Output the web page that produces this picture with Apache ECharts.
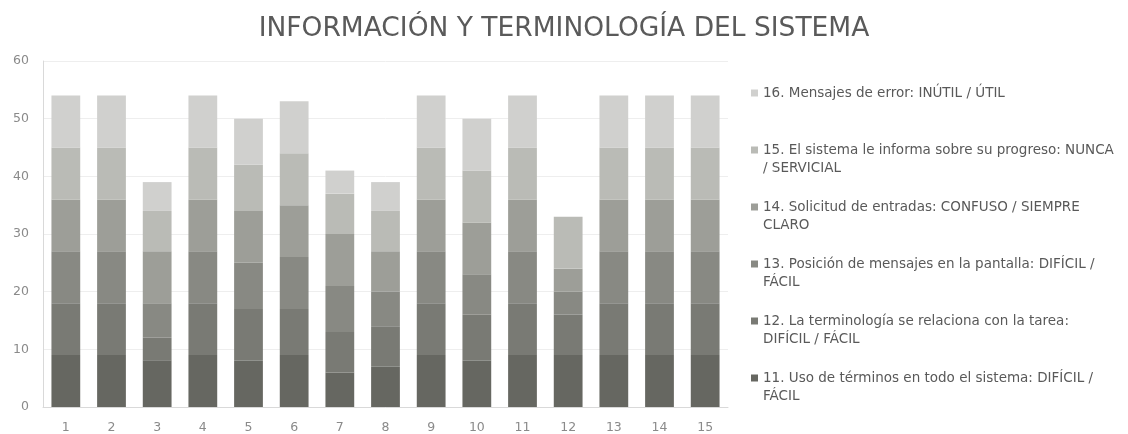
<!DOCTYPE html>
<html>
<head>
<meta charset="utf-8">
<script src="https://cdn.jsdelivr.net/npm/echarts@6/dist/echarts.min.js"></script>
<style>
  html, body { margin: 0; padding: 0; background: #ffffff; }
  #chart { width: 1128px; height: 434px; }
</style>
</head>
<body>
<div id="chart"></div>
<script>
// Participants 1..15
const categories = ['1','2','3','4','5','6','7','8','9','10','11','12','13','14','15'];

// Item labels (line break as shown in the legend)
const names = [
  '11. Uso de términos en todo el sistema: DIFÍCIL /\nFÁCIL',
  '12. La terminología se relaciona con la tarea:\nDIFÍCIL / FÁCIL',
  '13. Posición de mensajes en la pantalla: DIFÍCIL /\nFÁCIL',
  '14. Solicitud de entradas: CONFUSO / SIEMPRE\nCLARO',
  '15. El sistema le informa sobre su progreso: NUNCA\n/ SERVICIAL',
  '16. Mensajes de error: INÚTIL / ÚTIL'
];

// Scores per item
const item11 = [9, 9, 8, 9, 8, 9, 6, 7, 9, 8, 9, 9, 9, 9, 9];
const item12 = [9, 9, 4, 9, 9, 8, 7, 7, 9, 8, 9, 7, 9, 9, 9];
const item13 = [9, 9, 6, 9, 8, 9, 8, 6, 9, 7, 9, 4, 9, 9, 9];
const item14 = [9, 9, 9, 9, 9, 9, 9, 7, 9, 9, 9, 4, 9, 9, 9];
const item15 = [9, 9, 7, 9, 8, 9, 7, 7, 9, 9, 9, 9, 9, 9, 9];
const item16 = [9, 9, 5, 9, 8, 9, 4, 5, 9, 9, 9, 0, 9, 9, 9];

const yTicks = [0, 10, 20, 30, 40, 50, 60];

const values = [item11, item12, item13, item14, item15, item16];
const colors = ['#666761', '#797a74', '#888983', '#9d9e98', '#babbb6', '#d0d0ce'];

const chart = echarts.init(document.getElementById('chart'), null, { renderer: 'canvas' });

const series = names.map((name, i) => ({
  name: name,
  type: 'bar',
  stack: 'total',
  barWidth: '63%',
  itemStyle: { color: colors[i] },
  emphasis: { disabled: true },
  data: values[i]
}));

chart.setOption({
  animation: false,
  backgroundColor: '#ffffff',
  title: {
    text: 'INFORMACIÓN Y TERMINOLOGÍA DEL SISTEMA',
    left: 'center',
    top: 11,
    textStyle: {
      fontFamily: '"DejaVu Sans"',
      fontSize: 26.5,
      fontWeight: 'normal',
      color: '#5a5a5a'
    }
  },
  legend: {
    orient: 'vertical',
    left: 751,
    top: 66,
    padding: 0,
    itemGap: 3,
    itemWidth: 7,
    itemHeight: 7,
    icon: 'rect',
    selectedMode: false,
    data: names.slice().reverse(),
    formatter: function (name) {
      // three text rows per item so the marker sits on the first printed line
      return '\n' + name + (name.indexOf('\n') < 0 ? '\n' : '');
    },
    textStyle: {
      fontFamily: '"DejaVu Sans"',
      fontSize: 13.5,
      lineHeight: 18,
      color: '#595959'
    }
  },
  grid: {
    left: 43,
    right: 400,
    top: 61,
    bottom: 26,
    containLabel: false
  },
  xAxis: {
    type: 'category',
    data: categories,
    axisTick: { show: false },
    axisLine: { lineStyle: { color: '#d9d9d9' } },
    axisLabel: {
      margin: 14,
      fontFamily: '"DejaVu Sans"',
      fontSize: 12.5,
      color: '#8a8a8a'
    }
  },
  yAxis: {
    type: 'value',
    min: yTicks[0],
    max: yTicks[yTicks.length - 1],
    interval: 10,
    axisLine: { show: true, lineStyle: { color: '#d9d9d9' } },
    axisTick: { show: false },
    splitLine: { lineStyle: { color: '#eeeeee' } },
    axisLabel: {
      margin: 14,
      fontFamily: '"DejaVu Sans"',
      fontSize: 12.5,
      color: '#8a8a8a'
    }
  },
  series: series
});
</script>
</body>
</html>
